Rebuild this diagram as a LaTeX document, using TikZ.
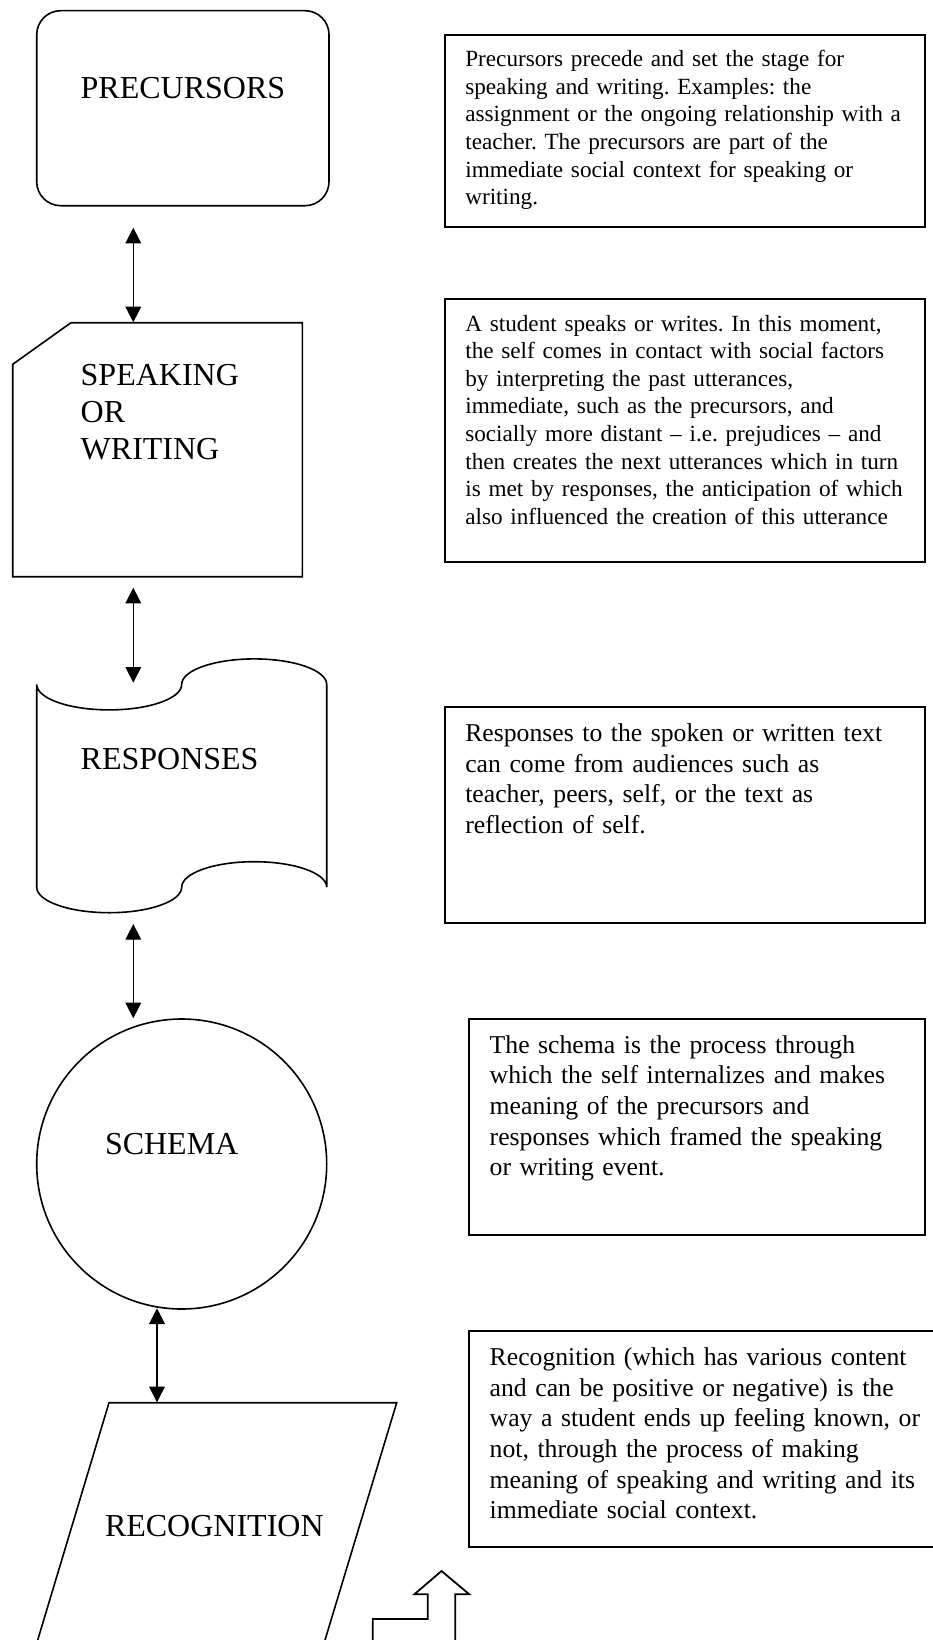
\documentclass[tikz,border=0pt]{standalone}
\usepackage{fontspec}
\setmainfont{Liberation Serif}
\usetikzlibrary{arrows.meta}
\tikzset{
  shapeline/.style={line width=1.6pt, line join=miter},
  txtbox/.style={draw, line width=2.2pt, rectangle, inner sep=0pt, outer sep=0pt, anchor=north west},
  bigtxt/.style={font=\fontsize{32}{36.8}\selectfont, inner sep=0pt, outer sep=0pt, anchor=base west},
  bigtxtml/.style={bigtxt, text width=300pt, align=left},
  smalltxt/.style={font=\fontsize{23.2}{27.6}\selectfont, inner sep=0pt, outer sep=0pt, anchor=base west, text width=470pt, align=left},
  midtxt/.style={font=\fontsize{25.7}{30.6}\selectfont, inner sep=0pt, outer sep=0pt, anchor=base west, text width=470pt, align=left},
  conn/.style={line width=1.3pt, {Triangle[length=15.7pt,width=15.7pt]}-{Triangle[length=15.7pt,width=15.7pt]}},
}
\begin{document}
\frenchspacing
\begin{tikzpicture}[x=1pt,y=1pt]
\useasboundingbox[fill=white] (0,0) rectangle (933,-1640);

% ---- PRECURSORS ----
\node[draw, shapeline, rectangle, rounded corners=24pt, minimum width=292.3pt, minimum height=195pt, inner sep=0pt, outer sep=0pt] (prec) at (182.85,-108.2) {};
\node[bigtxt] (precl) at (80.7,-99) {PRECURSORS};

% ---- SPEAKING OR WRITING (card) ----
\draw[shapeline] (71,-322.7) -- (302.3,-322.7) -- (302.3,-576.7) -- (12.7,-576.7) -- (12.7,-364.3) -- cycle;
\node[bigtxtml] (speakl) at (80.7,-385.7) {SPEAKING\\OR\\WRITING};

% ---- RESPONSES (punched tape) ----
\draw[shapeline] (36.7,-684.4)
  arc[start angle=180, end angle=360, x radius=72.5, y radius=25.5]
  arc[start angle=180, end angle=0, x radius=72.5, y radius=25.5]
  -- (326.7,-887.2)
  arc[start angle=0, end angle=180, x radius=72.5, y radius=25.5]
  arc[start angle=0, end angle=-180, x radius=72.5, y radius=25.5]
  -- cycle;
\node[bigtxt] (respl) at (80.7,-769.3) {RESPONSES};

% ---- SCHEMA ----
\node[draw, shapeline, circle, minimum size=290pt, inner sep=0pt, outer sep=0pt] (schema) at (181.7,-1164) {};
\node[bigtxt] (schemal) at (105,-1154) {SCHEMA};

% ---- RECOGNITION (parallelogram, cut by page edge) ----
\draw[shapeline] (34.7,-1650) -- (109,-1402.7) -- (396.7,-1402.7) -- (322,-1650);
\node[bigtxt] (recl) at (105,-1536.7) {RECOGNITION};

% ---- bent block arrow ----
\draw[line width=1.8pt, line join=miter] (372.7,-1650) -- (372.7,-1619) -- (427.7,-1619) -- (427.7,-1594.3) -- (414.3,-1594.3) -- (441.5,-1571) -- (469.3,-1594.3) -- (455.3,-1594.3) -- (455.3,-1650);

% ---- connectors ----
\coordinate (a1t) at (133.3,-227.7);
\coordinate (a1b) at (133.3,-322.3);
\coordinate (a2t) at (133.3,-587.7);
\coordinate (a2b) at (133.3,-682.7);
\coordinate (a3t) at (133.3,-924);
\coordinate (a3b) at (133.3,-1018.3);
\coordinate (a4t) at (157,-1308.3);
\coordinate (a4b) at (157,-1402.3);
\draw[conn] (a1t) -- (a1b);
\draw[conn] (a2t) -- (a2b);
\draw[conn] (a3t) -- (a3b);
\draw[conn] (a4t) -- (a4b);

% ---- text boxes ----
\node[txtbox, minimum width=480.6pt, minimum height=192pt] (b1) at (444.7,-34.7) {};
\node[smalltxt] (t1) at (465.3,-66.7) {Precursors precede and set the stage for\\speaking and writing. Examples: the\\assignment or the ongoing relationship with a\\teacher. The precursors are part of the\\immediate social context for speaking or\\writing.};

\node[txtbox, minimum width=480.6pt, minimum height=263.3pt] (b2) at (444.7,-299) {};
\node[smalltxt] (t2) at (465.3,-331) {A student speaks or writes. In this moment,\\the self comes in contact with social factors\\by interpreting the past utterances,\\immediate, such as the precursors, and\\socially more distant – i.e. prejudices – and\\then creates the next utterances which in turn\\is met by responses, the anticipation of which\\also influenced the creation of this utterance};

\node[txtbox, minimum width=480.6pt, minimum height=215.4pt] (b3) at (444.7,-707.3) {};
\node[midtxt] (t3) at (465.3,-741.7) {Responses to the spoken or written text\\can come from audiences such as\\teacher, peers, self, or the text as\\reflection of self.};

\node[txtbox, minimum width=456.6pt, minimum height=216pt] (b4) at (468.7,-1019) {};
\node[midtxt] (t4) at (489.7,-1053.3) {The schema is the process through\\which the self internalizes and makes\\meaning of the precursors and\\responses which framed the speaking\\or writing event.};

\node[txtbox, minimum width=472pt, minimum height=215.7pt] (b5) at (468.7,-1331) {};
\node[midtxt] (t5) at (489.7,-1365.7) {Recognition (which has various content\\and can be positive or negative) is the\\way a student ends up feeling known, or\\not, through the process of making\\meaning of speaking and writing and its\\immediate social context.};
\end{tikzpicture}
\end{document}
